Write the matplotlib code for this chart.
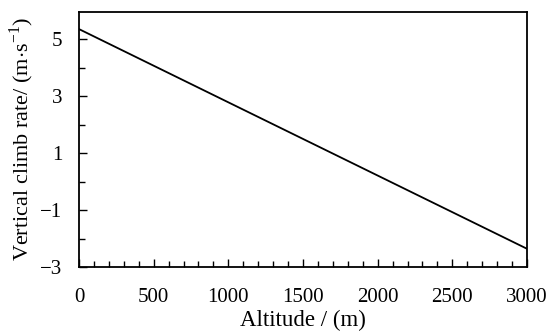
import numpy as np
import matplotlib
matplotlib.use("Agg")
import matplotlib.pyplot as plt
from matplotlib.ticker import MultipleLocator

# data
altitude = [0, 3000]
climb_rate = [5.35, -2.36]

plt.rcParams['font.family'] = ['Liberation Serif', 'DejaVu Serif']
plt.rcParams['mathtext.fontset'] = 'custom'
plt.rcParams['mathtext.rm'] = 'Liberation Serif'

fig = plt.figure(figsize=(5.5, 3.34), dpi=100)
ax = fig.add_axes([79/550, 1 - 267/334, 448/550, 255/334])

ax.plot(altitude, climb_rate, color='black', lw=1.3)

ax.set_xlim(0, 3000)
ax.set_ylim(-3, 5.95)
ax.xaxis.set_major_locator(MultipleLocator(500))
ax.xaxis.set_minor_locator(MultipleLocator(100))
ax.set_yticks([-3, -1, 1, 3, 5])
ax.set_yticklabels(['\u22123', '\u22121', '1', '3', '5'])
ax.yaxis.set_minor_locator(MultipleLocator(1))

ax.tick_params(which='major', direction='in', length=6, width=1, labelsize=15, pad=15)
ax.tick_params(axis='y', which='major', pad=12)
ax.tick_params(which='minor', direction='in', length=4, width=1)
ax.tick_params(axis='y', which='both', right=False)
for s in ax.spines.values():
    s.set_linewidth(1.3)

ax.set_xlabel('Altitude / (m)', fontsize=16.5, labelpad=2)
ax.set_ylabel('Vertical climb rate/ (m$\\cdot$s$^{\\mathregular{-1}}$)', fontsize=16, labelpad=3)

fig.savefig('out.png', dpi=100)
